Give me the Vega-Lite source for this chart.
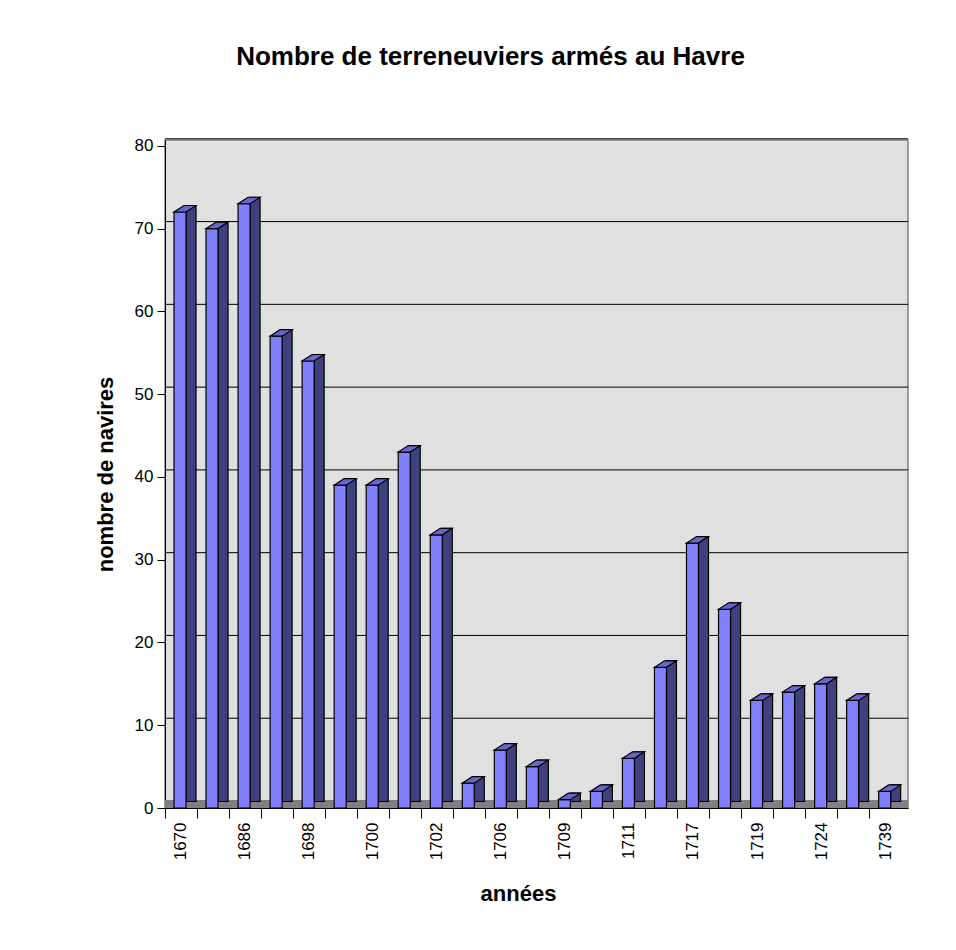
{
  "$schema": "https://vega.github.io/schema/vega-lite/v6.json",
  "width": 743,
  "height": 668,
  "autosize": {"type": "none"},
  "padding": {"left": 165, "top": 140, "right": 48, "bottom": 142},
  "background": "white",
  "title": {
    "text": "Nombre de terreneuviers armés au Havre",
    "font": "Liberation Sans",
    "fontSize": 26,
    "fontWeight": "bold",
    "color": "black",
    "anchor": "middle",
    "frame": "group",
    "baseline": "alphabetic",
    "offset": 46,
    "dx": -46
  },
  "config": {
    "view": {"fill": "#E0E0E0", "stroke": "#808080", "strokeWidth": 1.5},
    "font": "Liberation Sans",
    "axis": {"labelFontSize": 17, "labelColor": "black", "labelFont": "Liberation Sans", "titleFontSize": 22, "titleColor": "black", "tickColor": "black", "domainColor": "black"}
  },
  "datasets": {
    "navires": [
      {"annee": "1670", "navires": 72},
      {"annee": "1685", "navires": 70},
      {"annee": "1686", "navires": 73},
      {"annee": "1687", "navires": 57},
      {"annee": "1698", "navires": 54},
      {"annee": "1699", "navires": 39},
      {"annee": "1700", "navires": 39},
      {"annee": "1701", "navires": 43},
      {"annee": "1702", "navires": 33},
      {"annee": "1705", "navires": 3},
      {"annee": "1706", "navires": 7},
      {"annee": "1707", "navires": 5},
      {"annee": "1709", "navires": 1},
      {"annee": "1710", "navires": 2},
      {"annee": "1711", "navires": 6},
      {"annee": "1716", "navires": 17},
      {"annee": "1717", "navires": 32},
      {"annee": "1718", "navires": 24},
      {"annee": "1719", "navires": 13},
      {"annee": "1720", "navires": 14},
      {"annee": "1724", "navires": 15},
      {"annee": "1725", "navires": 13},
      {"annee": "1739", "navires": 2}
    ],
    "grille": [
      {"navires": 10}, {"navires": 20}, {"navires": 30}, {"navires": 40},
      {"navires": 50}, {"navires": 60}, {"navires": 70}, {"navires": 80}
    ]
  },
  "layer": [
    {
      "data": {"name": "grille"},
      "mark": {"type": "rule", "color": "black", "strokeWidth": 1, "yOffset": -7},
      "encoding": {
        "y": {
          "field": "navires", "type": "quantitative",
          "title": "nombre de navires",
          "scale": {"domain": [0, 80.7], "nice": false, "zero": true},
          "axis": {
            "title": "nombre de navires",
            "titleFont": "Liberation Sans",
            "titleFontSize": 22,
            "titleFontWeight": "bold",
            "titleColor": "black",
            "titleAngle": -90,
            "titleX": -60,
            "titleY": 334,
            "titleAlign": "center",
            "titleBaseline": "middle",
            "values": [0, 10, 20, 30, 40, 50, 60, 70, 80],
            "grid": false,
            "labelFontSize": 17,
            "labelColor": "black",
            "labelFont": "Liberation Sans",
            "labelPadding": 4,
            "tickSize": 8,
            "tickColor": "black",
            "domainColor": "black"
          }
        }
      }
    },
    {
      "data": {"name": "navires"},
      "mark": {"type": "rect", "color": "#808080", "y2Offset": -8},
      "encoding": {
        "y": {"datum": 0, "type": "quantitative", "title": "nombre de navires"},
        "y2": {"datum": 0}
      }
    },
    {
      "data": {"name": "navires"},
      "mark": {"type": "bar", "width": 10, "xOffset": 10, "yOffset": -6.5, "y2Offset": -3, "fill": "#404080", "stroke": "black", "strokeWidth": 1.2},
      "encoding": {
        "x": {
          "field": "annee", "type": "nominal", "sort": null, "title": "années",
          "scale": {"type": "band", "paddingInner": 0, "paddingOuter": 0.0985, "align": 0},
          "axis": {
            "title": "années",
            "titleFont": "Liberation Sans",
            "titleFontSize": 22,
            "titleFontWeight": "bold",
            "titleColor": "black",
            "titleX": 353,
            "titleY": 85,
            "titleAlign": "center",
            "titleBaseline": "middle",
            "labelAngle": -90,
            "labelFontSize": 17,
            "labelColor": "black",
            "labelFont": "Liberation Sans",
            "labelPadding": 4,
            "bandPosition": 0,
            "tickSize": 10,
            "tickColor": "black",
            "domainColor": "black",
            "labelExpr": "indexof(['1670','1686','1698','1700','1702','1706','1709','1711','1717','1719','1724','1739'], datum.label) >= 0 ? datum.label : ''"
          }
        },
        "y": {"field": "navires", "type": "quantitative", "title": "nombre de navires"}
      }
    },
    {
      "data": {"name": "navires"},
      "mark": {"type": "bar", "width": 12, "xOffset": -1, "fill": "#8080FF", "stroke": "black", "strokeWidth": 1.2},
      "encoding": {
        "x": {"field": "annee", "type": "nominal", "sort": null, "title": "années"},
        "y": {"field": "navires", "type": "quantitative", "title": "nombre de navires"}
      }
    },
    {
      "data": {"name": "navires"},
      "mark": {"type": "point", "shape": "M-7,0L5,0L15,-6.5L3,-6.5Z", "size": 4, "filled": true, "fill": "#6666CC", "stroke": "black", "strokeWidth": 1.2, "opacity": 1},
      "encoding": {
        "x": {"field": "annee", "type": "nominal", "sort": null, "title": "années"},
        "y": {"field": "navires", "type": "quantitative", "title": "nombre de navires"}
      }
    }
  ]
}
